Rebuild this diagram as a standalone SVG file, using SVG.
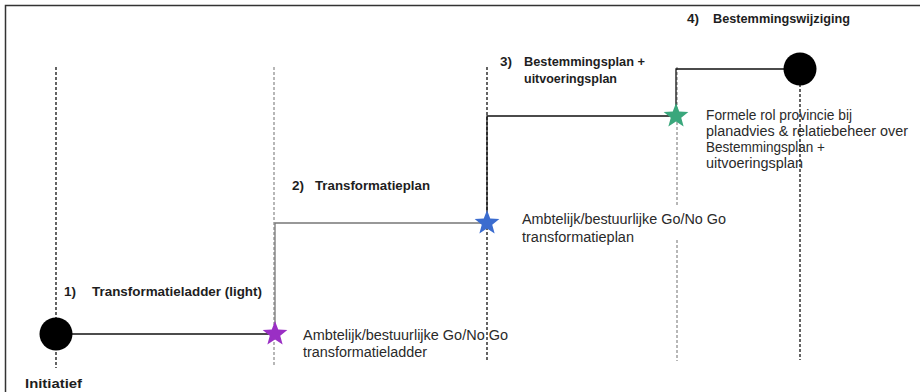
<svg xmlns="http://www.w3.org/2000/svg" xmlns:xlink="http://www.w3.org/1999/xlink" width="920" height="392" viewBox="0 0 920 392">
  <style>
    .lbl { font-family: "Liberation Sans", Arial, sans-serif; font-size: 13.5px; font-weight: bold; fill: #1e1e1e; }
    .txt { font-family: "Liberation Sans", Arial, sans-serif; font-size: 14px; fill: #2a2a2a; }
    .dashK { stroke: #111; stroke-width: 1.3; stroke-dasharray: 3 2; fill: none; }
    .dashG { stroke: #888; stroke-width: 1.2; stroke-dasharray: 3 2; fill: none; }
    .conn { stroke: #111; stroke-width: 1.3; fill: none; }
    .connG { stroke: #777; stroke-width: 1.3; fill: none; }
  </style>
  <defs>
    <path id="star" d="M0,-13 L3.23,-4.45 L12.36,-4.02 L5.23,1.7 L7.64,10.52 L0,5.5 L-7.64,10.52 L-5.23,1.7 L-12.36,-4.02 L-3.23,-4.45 Z"/>
  </defs>
  <rect x="0" y="0" width="920" height="392" fill="#ffffff"/>
  <!-- frame -->
  <path d="M5.5,392 L5.5,5.5 L920,5.5" stroke="#333" stroke-width="1.5" fill="none"/>

  <!-- timeline guides -->
  <g id="guides">
    <line class="dashK" x1="56" y1="67" x2="56" y2="368"/>
    <line class="dashG" x1="274" y1="67" x2="274" y2="366"/>
    <line class="dashK" x1="487" y1="67" x2="487" y2="360"/>
    <line class="dashG" x1="677" y1="67" x2="677" y2="205"/>
    <line class="dashG" x1="677" y1="240" x2="677" y2="361"/>
    <line class="dashK" x1="800" y1="84" x2="800" y2="360"/>
  </g>

  <!-- connectors -->
  <g id="connectors">
    <path class="conn" d="M56,334 L275,334"/>
    <path class="connG" d="M275,334 L275,223 L487,223"/>
    <path class="conn" d="M487,223 L487,116 L676,116"/>
    <path class="conn" d="M676,116 L676,69 L800,69"/>
  </g>

  <g id="node-initiatief">
    <circle cx="56" cy="334" r="16.5" fill="#000"/>
    <text class="lbl" x="25" y="388" textLength="57" lengthAdjust="spacingAndGlyphs">Initiatief</text>
  </g>

  <g id="node-step1">
    <text class="lbl" x="64" y="296">1)</text>
    <text class="lbl" x="92" y="296" textLength="170" lengthAdjust="spacingAndGlyphs">Transformatieladder (light)</text>
  </g>

  <g id="node-gonogo1">
    <use xlink:href="#star" x="275" y="334" fill="#9a2fc4"/>
    <text class="txt" x="303" y="340" textLength="205" lengthAdjust="spacingAndGlyphs">Ambtelijk/bestuurlijke Go/No Go</text>
    <text class="txt" x="303" y="357" textLength="124" lengthAdjust="spacingAndGlyphs">transformatieladder</text>
  </g>

  <g id="node-step2">
    <text class="lbl" x="292" y="190">2)</text>
    <text class="lbl" x="315" y="190" textLength="115" lengthAdjust="spacingAndGlyphs">Transformatieplan</text>
  </g>

  <g id="node-gonogo2">
    <use xlink:href="#star" x="487" y="223" fill="#3b6ccf"/>
    <text class="txt" x="522" y="224" textLength="204" lengthAdjust="spacingAndGlyphs">Ambtelijk/bestuurlijke Go/No Go</text>
    <text class="txt" x="522" y="242" textLength="112" lengthAdjust="spacingAndGlyphs">transformatieplan</text>
  </g>

  <g id="node-step3">
    <text class="lbl" x="500" y="66">3)</text>
    <text class="lbl" x="524" y="66" textLength="121" lengthAdjust="spacingAndGlyphs">Bestemmingsplan +</text>
    <text class="lbl" x="524" y="83" textLength="93" lengthAdjust="spacingAndGlyphs">uitvoeringsplan</text>
  </g>

  <g id="node-formeel">
    <use xlink:href="#star" x="676" y="116" fill="#3aa77c"/>
    <text class="txt" x="706" y="120" textLength="146" lengthAdjust="spacingAndGlyphs">Formele rol provincie bij</text>
    <text class="txt" x="706" y="136" textLength="202" lengthAdjust="spacingAndGlyphs">planadvies &amp; relatiebeheer over</text>
    <text class="txt" x="706" y="152" textLength="119" lengthAdjust="spacingAndGlyphs">Bestemmingsplan +</text>
    <text class="txt" x="706" y="168" textLength="97" lengthAdjust="spacingAndGlyphs">uitvoeringsplan</text>
  </g>

  <g id="node-step4">
    <circle cx="800" cy="69" r="16.5" fill="#000"/>
    <text class="lbl" x="687" y="23">4)</text>
    <text class="lbl" x="713" y="23" textLength="137" lengthAdjust="spacingAndGlyphs">Bestemmingswijziging</text>
  </g>
</svg>
